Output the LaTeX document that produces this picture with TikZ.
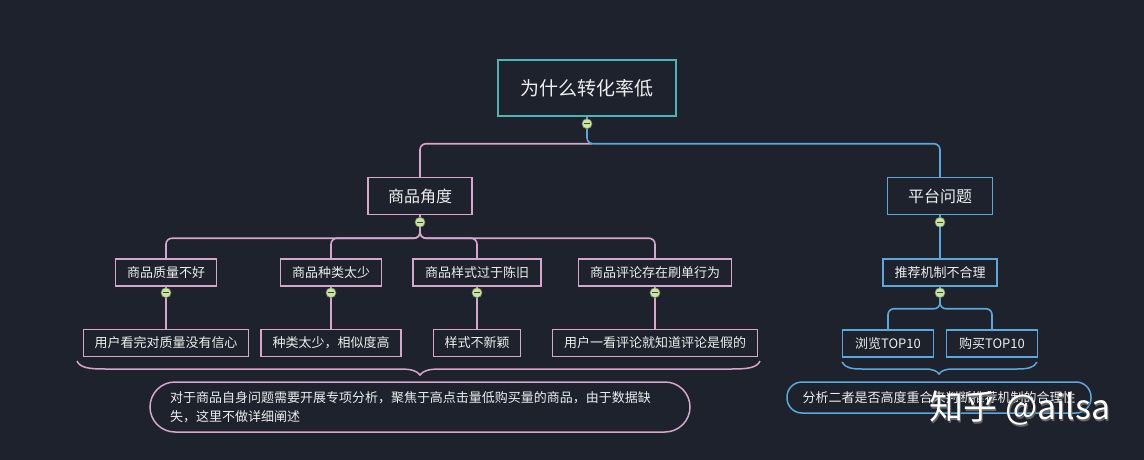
\documentclass[tikz,border=0pt]{standalone}
\usepackage{fontspec}
\setmainfont{Noto Sans CJK SC}
\definecolor{bg}{HTML}{1E222D}
\definecolor{pinkc}{HTML}{D6A6CC}
\definecolor{bluec}{HTML}{5CA8DC}
\definecolor{tealc}{HTML}{4CB4B4}
\definecolor{greenc}{HTML}{C8E6A0}
\definecolor{txt}{HTML}{EDEDED}
\begin{document}
\begin{tikzpicture}[x=1pt,y=-1pt,
  box/.style={draw, line width=1.5pt, fill=bg, text=txt, inner sep=0pt, minimum height=27pt, font=\fontsize{13}{15}\selectfont},
  pbox/.style={box, draw=pinkc},
  bbox/.style={box, draw=bluec},
  pline/.style={draw=pinkc, line width=1.6pt, rounded corners=6pt},
  bline/.style={draw=bluec, line width=1.6pt, rounded corners=6pt},
  knob/.style={circle, draw=greenc!60!black, line width=0.6pt, fill=greenc, minimum size=10pt, inner sep=0pt,
    path picture={\draw[line width=1.3pt, black!75] ([xshift=-3pt]path picture bounding box.center) -- ([xshift=3pt]path picture bounding box.center);}}
]
\useasboundingbox (0,0) rectangle (1144,460);
\fill[bg] (0,0) rectangle (1144,460);

% nodes
\node[box, draw=tealc, minimum width=178pt, minimum height=56pt, font=\fontsize{19}{22}\selectfont] (root) at (587,88) {为什么转化率低};
\node[pbox, minimum width=104pt, minimum height=37pt, font=\fontsize{16}{18}\selectfont] (goods) at (420,196) {商品角度};
\node[bbox, minimum width=105pt, minimum height=37pt, font=\fontsize{16}{18}\selectfont] (plat) at (940,196) {平台问题};

\node[pbox, minimum width=101pt] (c1) at (166,272.5) {商品质量不好};
\node[pbox, minimum width=101pt] (c2) at (331,272.5) {商品种类太少};
\node[pbox, minimum width=128pt] (c3) at (477,272.5) {商品样式过于陈旧};
\node[pbox, minimum width=153pt] (c4) at (655,272.5) {商品评论存在刷单行为};

\node[pbox, minimum width=165pt] (g1) at (166,343) {用户看完对质量没有信心};
\node[pbox, minimum width=140pt] (g2) at (331,343) {种类太少，相似度高};
\node[pbox, minimum width=87pt] (g3) at (477,343) {样式不新颖};
\node[pbox, minimum width=205pt] (g4) at (655,343) {用户一看评论就知道评论是假的};

\node[bbox, minimum width=114pt] (rec) at (940,272.5) {推荐机制不合理};
\node[bbox, minimum width=91pt] (b1) at (888,343.5) {浏览TOP10};
\node[bbox, minimum width=91pt] (b2) at (992,343.5) {购买TOP10};

% connectors
\draw[pline] (root.south) ++(5,27) -| (goods.north);
\draw[bline] (root.south) -- ++(0,27) -| (plat.north);
\foreach \c in {c1,c2,c3,c4} \draw[pline] (goods.south) -- ++(0,23) -| (\c.north);
\draw[pline] (c1.south) -- (g1.north);
\draw[pline] (c2.south) -- (g2.north);
\draw[pline] (c3.south) -- (g3.north);
\draw[pline] (c4.south) -- (g4.north);
\draw[bline] (plat.south) -- (rec.north);
\draw[bline] (rec.south) -- ++(0,22) -| (b1.north);
\draw[bline] (rec.south) -- ++(0,22) -| (b2.north);

% knobs
\node[knob] (k0) at ([yshift=-7pt]root.south) {};
\node[knob] (k1) at ([yshift=-7pt]goods.south) {};
\node[knob] (k2) at ([yshift=-6pt]c1.south) {};
\node[knob] (k3) at ([yshift=-6pt]c2.south) {};
\node[knob] (k4) at ([yshift=-6pt]c3.south) {};
\node[knob] (k5) at ([yshift=-6pt]c4.south) {};
\node[knob] (k6) at ([yshift=-7pt]plat.south) {};
\node[knob] (k7) at ([yshift=-6pt]rec.south) {};

% braces
\draw[pinkc, line width=1.5pt] (77,361) .. controls (80,368) and (90,369) .. (105,369) -- (400,369) .. controls (412,369) and (417,371) .. (420,375) .. controls (423,371) and (428,369) .. (440,369) -- (732,369) .. controls (747,369) and (757,368) .. (760,361);
\draw[bluec, line width=1.5pt] (842,362) .. controls (845,368) and (852,369) .. (862,369) -- (925,369) .. controls (933,369) and (937,371) .. (939,374) .. controls (941,371) and (945,369) .. (953,369) -- (1017,369) .. controls (1027,369) and (1034,368) .. (1037,362);

% summaries
\node[draw=pinkc, line width=1.5pt, rounded corners=25pt, fill=bg, text=txt, minimum height=50pt, text width=500pt, inner xsep=20pt, align=left, font=\fontsize{13}{19}\selectfont] (sum1) at (420,407) {对于商品自身问题需要开展专项分析，聚焦于高点击量低购买量的商品，由于数据缺\\失，这里不做详细阐述};
\node[draw=bluec, line width=1.5pt, rounded corners=15pt, fill=bg, text=txt, minimum height=31pt, minimum width=304pt, inner sep=0pt, font=\fontsize{13}{15}\selectfont] (sum2) at (939,397.5) {分析二者是否高度重合来判断推荐机制的合理性};

% watermark
\node[text=black!60, font=\fontsize{34}{38}\selectfont] at (1021,410) {知乎 @ailsa};
\node[text=white, font=\fontsize{34}{38}\selectfont] (wm) at (1020,408) {知乎 @ailsa};
\end{tikzpicture}
\end{document}
